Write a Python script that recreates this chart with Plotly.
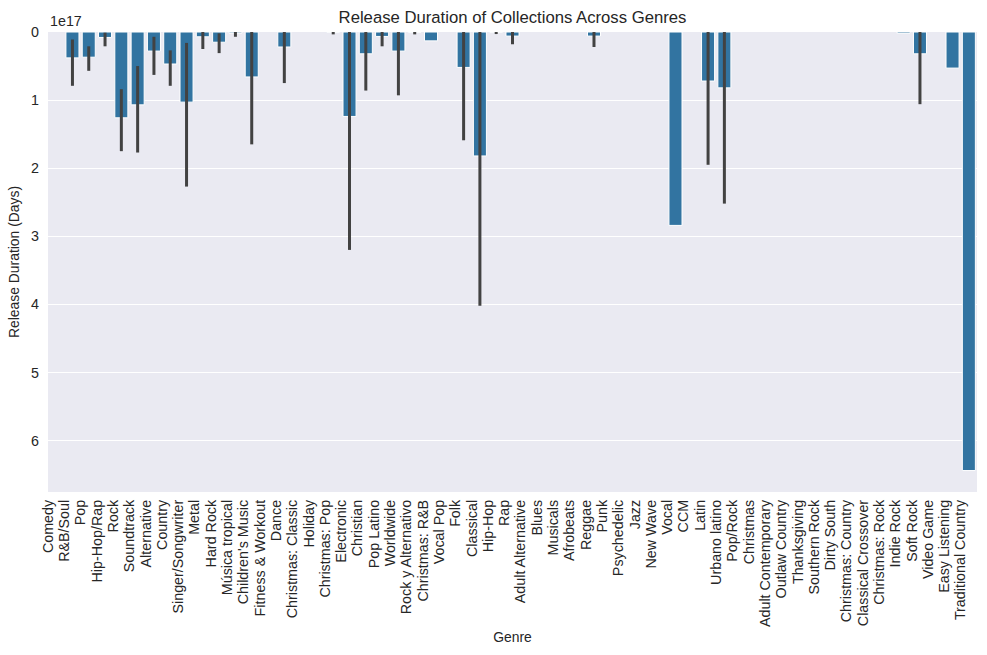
import plotly.graph_objects as go

genres = ["Comedy", "R&B/Soul", "Pop", "Hip-Hop/Rap", "Rock", "Soundtrack", "Alternative",
          "Country", "Singer/Songwriter", "Metal", "Hard Rock", "Música tropical",
          "Children's Music", "Fitness & Workout", "Dance", "Christmas: Classic", "Holiday",
          "Christmas: Pop", "Electronic", "Christian", "Pop Latino", "Worldwide",
          "Rock y Alternativo", "Christmas: R&B", "Vocal Pop", "Folk", "Classical", "Hip-Hop",
          "Rap", "Adult Alternative", "Blues", "Musicals", "Afrobeats", "Reggae", "Punk",
          "Psychedelic", "Jazz", "New Wave", "Vocal", "CCM", "Latin", "Urbano latino",
          "Pop/Rock", "Christmas", "Adult Contemporary", "Outlaw Country", "Thanksgiving",
          "Southern Rock", "Dirty South", "Christmas: Country", "Classical Crossover",
          "Christmas: Rock", "Indie Rock", "Soft Rock", "Video Game", "Easy Listening",
          "Traditional Country"]

# mean release duration, in units of 1e17
mean_vals = [None, 0.38, 0.37, 0.08, 1.26, 1.07, 0.28, 0.47, 1.03, 0.07, 0.15, 0.015,
             0.66, None, 0.22, None, None, 0.005, 1.24, 0.32, 0.065, 0.28, 0.005, 0.13,
             None, 0.52, 1.82, 0.005, 0.06, None, None, None, None, 0.06, None, None,
             None, None, 2.84, None, 0.72, 0.82, None, None, None, None, None, None,
             None, None, None, None, 0.02, 0.32, None, 0.53, 6.44]

ci_low = [None, 0.11, 0.21, 0.01, 0.84, 0.50, 0.07, 0.27, 0.16, 0.0, 0.02, 0.0,
          0.0, None, 0.0, None, None, 0.0, 0.0, 0.0, 0.0, 0.0, 0.0, None,
          None, 0.0, 0.0, 0.0, 0.0, None, None, None, None, 0.0, None, None,
          None, None, None, None, 0.0, 0.0, None, None, None, None, None, None,
          None, None, None, None, None, 0.0, None, None, None]

ci_high = [None, 0.79, 0.57, 0.21, 1.75, 1.77, 0.63, 0.79, 2.27, 0.25, 0.31, 0.07,
           1.65, None, 0.75, None, None, 0.035, 3.20, 0.86, 0.21, 0.93, 0.035, None,
           None, 1.59, 4.02, 0.03, 0.18, None, None, None, None, 0.22, None, None,
           None, None, None, None, 1.95, 2.52, None, None, None, None, None, None,
           None, None, None, None, None, 1.06, None, None, None]

y_ticks = [0, 1, 2, 3, 4, 5, 6]
y_ticktext = ["0", "1", "2", "3", "4", "5", "6"]

err_plus = [(h - m) if (h is not None and m is not None) else None for m, h in zip(mean_vals, ci_high)]
err_minus = [(m - l) if (l is not None and m is not None) else None for m, l in zip(mean_vals, ci_low)]

TEXT = "#262626"
FONT = "Liberation Sans, Arial, sans-serif"
TICK = 14.3

fig = go.Figure()
fig.add_trace(go.Bar(
    x=genres, y=mean_vals,
    marker=dict(color="#3274a1", line=dict(color="white", width=1)),
    error_y=dict(type="data", symmetric=False, array=err_plus, arrayminus=err_minus,
                 color="#424242", thickness=3, width=0),
    hoverinfo="x+y",
))

fig.update_layout(
    width=987, height=655,
    margin=dict(l=48, r=10, t=32, b=163, autoexpand=False),
    paper_bgcolor="white", plot_bgcolor="#EAEAF2",
    bargap=0.2, showlegend=False,
    font=dict(family=FONT, color=TEXT, size=13.9),
    title=dict(text="Release Duration of Collections Across Genres",
               x=0.5, xref="paper", xanchor="center",
               y=1 - 17 / 655, yref="container", yanchor="middle",
               font=dict(size=16.7, color=TEXT)),
    xaxis=dict(type="category", categoryorder="array", categoryarray=genres,
               range=[-0.5, len(genres) - 0.5], tickangle=-90,
               tickmode="array", tickvals=genres, ticktext=genres,
               automargin=False,
               showgrid=False, zeroline=False, showline=False, ticks="",
               ticklabelshift=-8, ticklabelstandoff=4,
               tickfont=dict(size=TICK, color=TEXT),
               title=dict(text="Genre", standoff=6, font=dict(size=13.9, color=TEXT))),
    yaxis=dict(range=[6.755, 0], tickvals=y_ticks, ticktext=y_ticktext,
               automargin=False,
               showgrid=True, gridcolor="white", gridwidth=1.2, zeroline=False,
               showline=False, ticks="", ticklabelstandoff=8,
               tickfont=dict(size=TICK, color=TEXT),
               title=dict(text="Release Duration (Days)", standoff=8,
                          font=dict(size=13.9, color=TEXT))),
)

fig.add_annotation(text="1e17", xref="paper", yref="paper", x=0, y=1,
                   xanchor="left", yanchor="bottom", yshift=1, showarrow=False,
                   font=dict(size=TICK, color=TEXT))

fig.write_html("out.html", config={"displayModeBar": False},
               post_script="document.body.style.margin='0';")
